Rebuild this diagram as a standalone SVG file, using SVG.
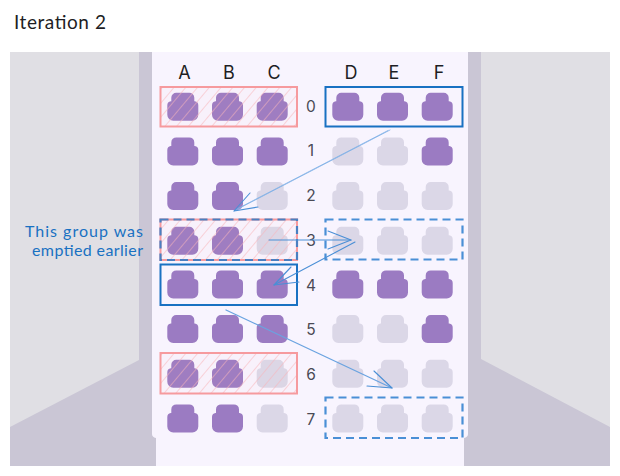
<svg xmlns="http://www.w3.org/2000/svg" width="620" height="476" viewBox="0 0 620 476">
<style>
.f{fill:#9b7bc2}.e{fill:#dbd7e7}
.lb{font-family:"Inter","Noto Sans",sans-serif;font-size:18px;fill:#1e1e24;text-anchor:middle}
.rn{font-family:"Inter","Noto Sans",sans-serif;font-size:15.5px;fill:#4a4a55;text-anchor:middle}
.hb{fill:url(#hatch);stroke:#f69a9e;stroke-width:2}
.sb{fill:none;stroke:#1971c2;stroke-width:2}
.db{fill:none;stroke:#4a8fd6;stroke-width:2.2;stroke-dasharray:8 5}
.ar{fill:none;stroke:#4a8fd6;stroke-width:1.1;stroke-linecap:round;stroke-linejoin:round}
.an{font-family:"Lato",sans-serif;font-size:16px;fill:#1971c2}
</style>
<defs>
<path id="seat" d="M9 0H22a5 5 0 0 1 5 5v3.5h.5a4 4 0 0 1 3.5 4V22a6 6 0 0 1-6 6H6a6 6 0 0 1-6-6V12.5a4 4 0 0 1 3.5-4H4V5a5 5 0 0 1 5-5z"/>
<pattern id="hatch" width="9" height="9" patternUnits="userSpaceOnUse" patternTransform="rotate(40)">
<rect width="9" height="9" fill="#f9a8a8" fill-opacity=".04"/>
<line x1="0" y1="0" x2="0" y2="9" stroke="#f7b4b8" stroke-width="1.1"/>
</pattern>
</defs>
<rect width="620" height="476" fill="#fff"/>
<text x="14" y="29" font-family="'Lato','Noto Sans',sans-serif" font-size="19" fill="#1e1e24" textLength="92">Iteration 2</text>
<g id="cabin">
<rect x="10" y="52" width="600" height="414" fill="#cac6d5"/>
<path d="M10 52H139V360L10 427Z" fill="#e0dfe4"/>
<path d="M481 52H610V427L481 359Z" fill="#e0dfe4"/>
<path d="M152 52H468V434Q468 437 464 438V466H156V438Q152 437 152 434Z" fill="#f8f4fe"/>
</g>
<g id="columns">
<text class="lb" x="184.5" y="79">A</text><text class="lb" x="229" y="79">B</text><text class="lb" x="274" y="79">C</text>
<text class="lb" x="351" y="79">D</text><text class="lb" x="394" y="79">E</text><text class="lb" x="439" y="79">F</text>
</g>
<g id="row-numbers">
<text class="rn" x="311" y="112">0</text><text class="rn" x="311" y="156">1</text><text class="rn" x="311" y="201">2</text><text class="rn" x="311" y="246">3</text>
<text class="rn" x="311" y="291">4</text><text class="rn" x="311" y="335">5</text><text class="rn" x="311" y="380">6</text><text class="rn" x="311" y="425">7</text>
</g>
<g id="row-0">
<use href="#seat" class="f" x="167.3" y="92.7"/><use href="#seat" class="f" x="212" y="92.7"/><use href="#seat" class="f" x="256.7" y="92.7"/>
<use href="#seat" class="f" x="332.3" y="92.7"/><use href="#seat" class="f" x="377" y="92.7"/><use href="#seat" class="f" x="421.7" y="92.7"/>
</g>
<g id="row-1">
<use href="#seat" class="f" x="167.3" y="137.4"/><use href="#seat" class="f" x="212" y="137.4"/><use href="#seat" class="f" x="256.7" y="137.4"/>
<use href="#seat" class="e" x="332.3" y="137.4"/><use href="#seat" class="e" x="377" y="137.4"/><use href="#seat" class="f" x="421.7" y="137.4"/>
</g>
<g id="row-2">
<use href="#seat" class="f" x="167.3" y="182"/><use href="#seat" class="f" x="212" y="182"/><use href="#seat" class="e" x="256.7" y="182"/>
<use href="#seat" class="e" x="332.3" y="182"/><use href="#seat" class="e" x="377" y="182"/><use href="#seat" class="e" x="421.7" y="182"/>
</g>
<g id="row-3">
<use href="#seat" class="f" x="167.3" y="226.8"/><use href="#seat" class="f" x="212" y="226.8"/><use href="#seat" class="e" x="256.7" y="226.8"/>
<use href="#seat" class="e" x="332.3" y="226.8"/><use href="#seat" class="e" x="377" y="226.8"/><use href="#seat" class="e" x="421.7" y="226.8"/>
</g>
<g id="row-4">
<use href="#seat" class="f" x="167.3" y="270.4"/><use href="#seat" class="f" x="212" y="270.4"/><use href="#seat" class="f" x="256.7" y="270.4"/>
<use href="#seat" class="f" x="332.3" y="270.4"/><use href="#seat" class="f" x="377" y="270.4"/><use href="#seat" class="f" x="421.7" y="270.4"/>
</g>
<g id="row-5">
<use href="#seat" class="f" x="167.3" y="315"/><use href="#seat" class="f" x="212" y="315"/><use href="#seat" class="f" x="256.7" y="315"/>
<use href="#seat" class="e" x="332.3" y="315"/><use href="#seat" class="e" x="377" y="315"/><use href="#seat" class="f" x="421.7" y="315"/>
</g>
<g id="row-6">
<use href="#seat" class="f" x="167.3" y="359.7"/><use href="#seat" class="f" x="212" y="359.7"/><use href="#seat" class="e" x="256.7" y="359.7"/>
<use href="#seat" class="e" x="332.3" y="359.7"/><use href="#seat" class="e" x="377" y="359.7"/><use href="#seat" class="e" x="421.7" y="359.7"/>
</g>
<g id="row-7">
<use href="#seat" class="f" x="167.3" y="404.4"/><use href="#seat" class="f" x="212" y="404.4"/><use href="#seat" class="e" x="256.7" y="404.4"/>
<use href="#seat" class="e" x="332.3" y="404.4"/><use href="#seat" class="e" x="377" y="404.4"/><use href="#seat" class="e" x="421.7" y="404.4"/>
</g>
<g id="group-boxes">
<rect class="hb" x="160.5" y="87" width="136.5" height="39.5"/>
<rect class="hb" x="160.5" y="219.5" width="136.5" height="40.5"/>
<rect class="hb" x="160.5" y="353" width="136.5" height="40.5"/>
<rect class="db" x="160.5" y="219.5" width="136.5" height="40.5" style="stroke:#4a7fc0"/>
<rect class="sb" x="160.5" y="264.5" width="136.5" height="40.5"/>
<rect class="sb" x="325.5" y="87" width="137" height="39.5"/>
<rect class="db" x="325.5" y="219.5" width="137" height="40"/>
<rect class="db" x="325.5" y="397.5" width="137" height="40.5"/>
</g>
<g id="connectors">
<path class="ar" style="stroke:#7fb0e6;stroke-width:.8" d="M390 130L234 211M388 130.5L235 210"/>
<path class="ar" d="M250 193L234 211L258 207"/>
<path class="ar" d="M269 240H351"/>
<path class="ar" d="M328 231L351 240L328 249"/>
<path class="ar" d="M355 242L274 285"/>
<path class="ar" d="M291 267L274 285L299 282"/>
<path class="ar" style="stroke:#6aa3e0;stroke-width:1.3" d="M226 310L392 388"/>
<path class="ar" d="M374 371L392 388L367 386"/>
</g>
<g id="annotation">
<text class="an" x="25" y="237" textLength="118">This group was</text>
<text class="an" x="32" y="256" textLength="111">emptied earlier</text>
</g>
</svg>
